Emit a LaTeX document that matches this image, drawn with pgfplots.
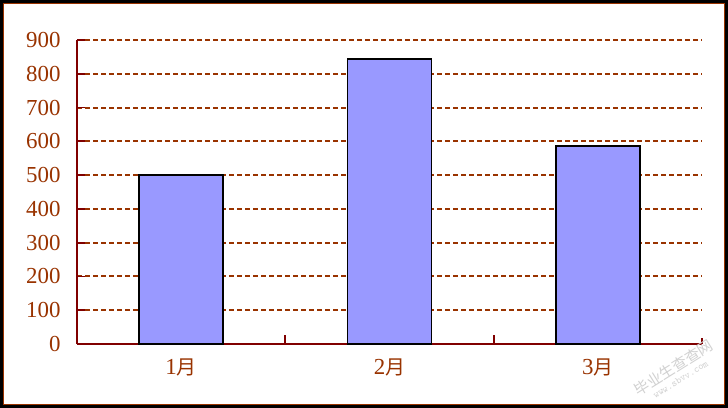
\documentclass[border=0pt]{standalone}
\usepackage{pgfplots}
\pgfplotsset{compat=1.18}
\usepackage{fontspec}
\setmainfont{Liberation Serif}
\newfontfamily\cjk{Noto Sans CJK SC}
\definecolor{gridbrown}{HTML}{993300}
\definecolor{axisred}{HTML}{800000}
\definecolor{barblue}{HTML}{9999FF}
\begin{document}
\begin{tikzpicture}
  \useasboundingbox (0,0) rectangle (728bp,408bp);
  \fill[white] (0,0) rectangle (728bp,408bp);
  \begin{axis}[
      at={(77bp,64bp)}, anchor=south west,
      scale only axis,
      width=625bp, height=304bp,
      xmin=-0.5, xmax=2.5,
      ymin=0, ymax=900,
      axis x line=bottom, axis y line=left,
      axis line style={axisred, line width=1.8bp, -},
      xtick={0,1,2},
      xticklabels={1{\cjk\fontsize{20}{24}\selectfont 月},2{\cjk\fontsize{20}{24}\selectfont 月},3{\cjk\fontsize{20}{24}\selectfont 月}},
      x tick style={draw=none},
      ytick distance=100,
      tick align=inside,
      y tick style={axisred, line width=1.8bp},
      major tick length=8bp,
      ymajorgrids,
      major grid style={gridbrown, line width=1.9bp, dash pattern=on 5bp off 3bp},
      tick label style={font=\fontsize{23}{26}\selectfont, text=gridbrown},
      /pgf/number format/assume math mode=true,
      yticklabel style={xshift=-13bp},
      xticklabel style={yshift=-11bp},
      clip=false,
    ]
    \addplot[ybar, bar width=84bp, fill=barblue, draw=black, line width=1.9bp]
      coordinates {(0,500) (1,845) (2,587)};
    \draw[axisred, line width=1.8bp] (axis cs:0.5,0) -- ([yshift=9bp]axis cs:0.5,0);
    \draw[axisred, line width=1.8bp] (axis cs:1.5,0) -- ([yshift=9bp]axis cs:1.5,0);
    \draw[axisred, line width=1.8bp] (axis cs:2.5,0) -- ([yshift=6bp]axis cs:2.5,0);
  \end{axis}
  \node[rotate=32, text=black!18, align=center, inner sep=0pt]
    at (676bp,36bp) {{\cjk\fontsize{15}{18}\selectfont 毕业生查查网}\\[-1pt]
      {\ttfamily\fontsize{10}{12}\selectfont www.sbvv.com}};
  \draw[black, line width=3bp] (1.5bp,1.5bp) rectangle (726.5bp,406.5bp);
  \draw[gridbrown, line width=1bp] (3.5bp,3.5bp) rectangle (724.5bp,404.5bp);
\end{tikzpicture}
\end{document}
